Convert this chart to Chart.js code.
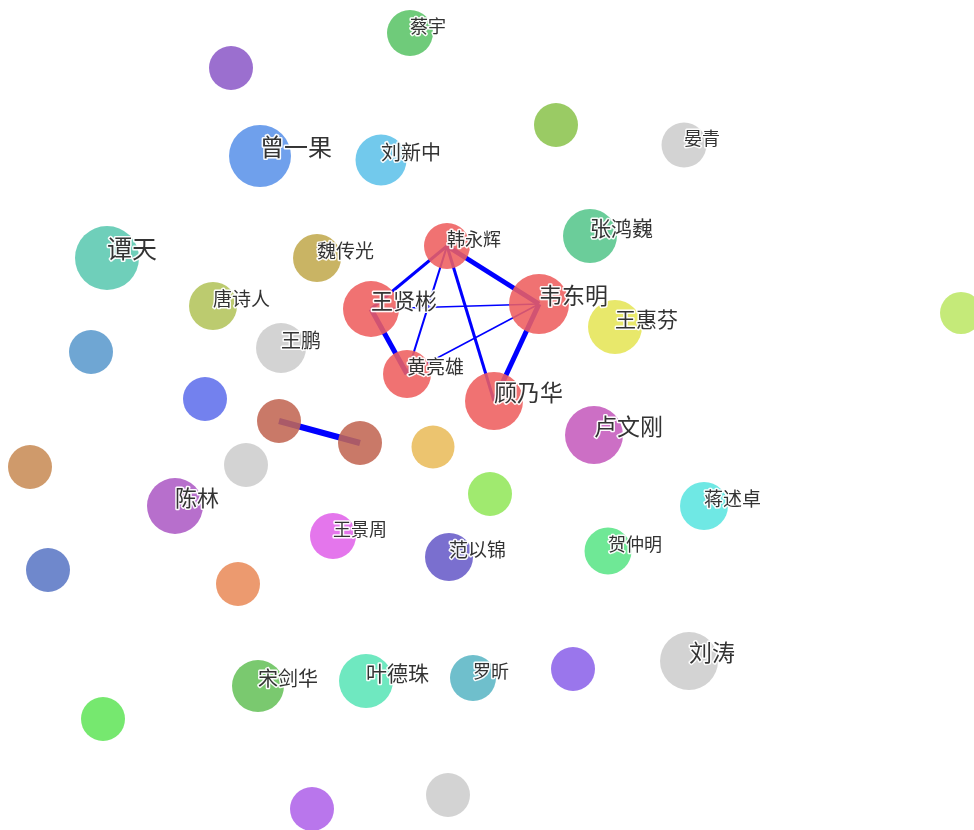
<!DOCTYPE html>
<html>
<head>
<meta charset="utf-8">
<script src="https://cdn.jsdelivr.net/npm/chart.js@4/dist/chart.umd.min.js"></script>
<style>
  html, body { margin: 0; padding: 0; background: #fff; }
  #wrap { width: 974px; height: 830px; }
</style>
</head>
<body>
<div id="wrap"><canvas id="graph"></canvas></div>
<script>
// nodes of the co-author graph (layout coordinates, origin at centre, y up)
const names = [
  "蔡宇", "", "曾一果", "刘新中", "", "晏青", "张鸿巍", "韦东明", "王惠芬", "",
  "韩永辉", "王贤彬", "黄亮雄", "顾乃华", "魏传光", "谭天", "唐诗人", "", "王鹏", "",
  "", "", "", "", "", "卢文刚", "", "陈林", "王景周", "范以锦",
  "贺仲明", "蒋述卓", "", "", "宋剑华", "叶德珠", "罗昕", "", "刘涛", "",
  "", ""
];
const nodeX = [
  -77, -256, -227, -106, 69, 197, 103, 52, 128, 474,
  -40, -116, -80, 7, -170, -380, -274, -396, -206, -282,
  -208, -127, -457, -241, -54, 107, 3, -312, -154, -38,
  121, 217, -439, -249, -229, -121, -14, 86, 202, -384,
  -175, -39
];
const nodeY = [
  382, 347, 259, 255, 290, 270, 179, 111, 88, 102,
  169, 106, 41, 14, 157, 157, 109, 63, 67, 16,
  -6, -28, -52, -50, -32, -20, -79, -91, -121, -142,
  -136, -91, -155, -169, -271, -266, -263, -254, -246, -304,
  -394, -380
];
const nodeValue = [
  23, 22, 31, 25.5, 22, 22.5, 27, 30, 27, 21,
  23, 28, 24, 29, 24, 32, 24, 22, 25, 22,
  22, 22, 22, 22, 21.5, 29, 22, 28, 23, 24,
  23.5, 24, 22, 22, 26, 27, 23, 22, 29, 22,
  22, 22
];
const nodeColors = [
  "#6fcb7a", "#9b6fcf", "#6fa0ec", "#72c8ec", "#9acb63", "#d3d3d3", "#6acd9a", "#f07171", "#e8e86a", "#c5ea78",
  "#f07171", "#f07171", "#f07171", "#f07171", "#c8b464", "#6fcfba", "#bccb6f", "#6fa6d3", "#d3d3d3", "#7380ee",
  "#c87868", "#c87868", "#cf9a6a", "#d3d3d3", "#ecc46f", "#cc6fc5", "#a0ea6f", "#b76fcc", "#e476ec", "#7a6fcf",
  "#6fe895", "#6fe8e4", "#6f87cc", "#ec9a6f", "#7ac86f", "#6fe8c0", "#6fbfcc", "#9a76ec", "#d3d3d3", "#76e86f",
  "#b976ec", "#d3d3d3"
];

// links between nodes (by index) and their weight
const edgeSource = [10, 10, 10, 10, 11, 11, 12, 7, 20];
const edgeTarget = [11, 7, 12, 13, 7, 12, 7, 13, 21];
const edgeWeight = [3, 5, 2, 3, 1.5, 5, 1.5, 5, 6];

const NODE_ALPHA = 0.88;

// colour that looks like `hex` over white when drawn with alpha a
function tint(hex, a) {
  const v = [1, 3, 5].map(i => parseInt(hex.substr(i, 2), 16));
  const c = v.map(x => Math.max(0, Math.min(255, Math.round((x - (1 - a) * 255) / a))));
  return `rgba(${c[0]},${c[1]},${c[2]},${a})`;
}

const nodes = names.map((n, i) => ({ x: nodeX[i], y: nodeY[i], r: nodeValue[i], label: n }));

const edgeSets = edgeSource.map((s, i) => ({
  type: "line",
  data: [
    { x: nodeX[s], y: nodeY[s] },
    { x: nodeX[edgeTarget[i]], y: nodeY[edgeTarget[i]] }
  ],
  borderColor: "#0000ff",
  borderWidth: edgeWeight[i],
  pointRadius: 0,
  pointHoverRadius: 0,
  fill: false,
  order: 2,
  clip: false
}));

const labelPlugin = {
  id: "nodeLabels",
  afterDatasetsDraw(chart) {
    const ctx = chart.ctx;
    const idx = chart.data.datasets.findIndex(d => d.type === "bubble");
    const meta = chart.getDatasetMeta(idx);
    ctx.save();
    ctx.textAlign = "left";
    ctx.textBaseline = "alphabetic";
    ctx.lineJoin = "round";
    meta.data.forEach((el, i) => {
      const n = nodes[i];
      if (!n.label) return;
      const size = Math.round(n.r * 0.78);
      ctx.font = `${size}px "Noto Sans CJK SC", "Noto Sans", sans-serif`;
      ctx.strokeStyle = "rgba(255,255,255,0.95)";
      ctx.lineWidth = 3;
      ctx.strokeText(n.label, el.x, el.y);
      ctx.fillStyle = "#333";
      ctx.fillText(n.label, el.x, el.y);
    });
    ctx.restore();
  }
};

new Chart(document.getElementById("graph"), {
  data: {
    datasets: [
      {
        type: "bubble",
        data: nodes,
        backgroundColor: nodeColors.map(c => tint(c, NODE_ALPHA)),
        borderWidth: 0,
        hoverBorderWidth: 0,
        order: 1,
        clip: false
      },
      ...edgeSets
    ]
  },
  options: {
    responsive: true,
    maintainAspectRatio: false,
    animation: false,
    layout: { padding: 0, autoPadding: false },
    plugins: {
      legend: { display: false },
      tooltip: {
        filter: item => item.dataset.type === "bubble",
        callbacks: { label: item => item.raw.label || "" }
      }
    },
    scales: {
      x: { type: "linear", min: -487, max: 487, display: false },
      y: { type: "linear", min: -415, max: 415, display: false }
    }
  },
  plugins: [labelPlugin]
});
</script>
</body>
</html>
